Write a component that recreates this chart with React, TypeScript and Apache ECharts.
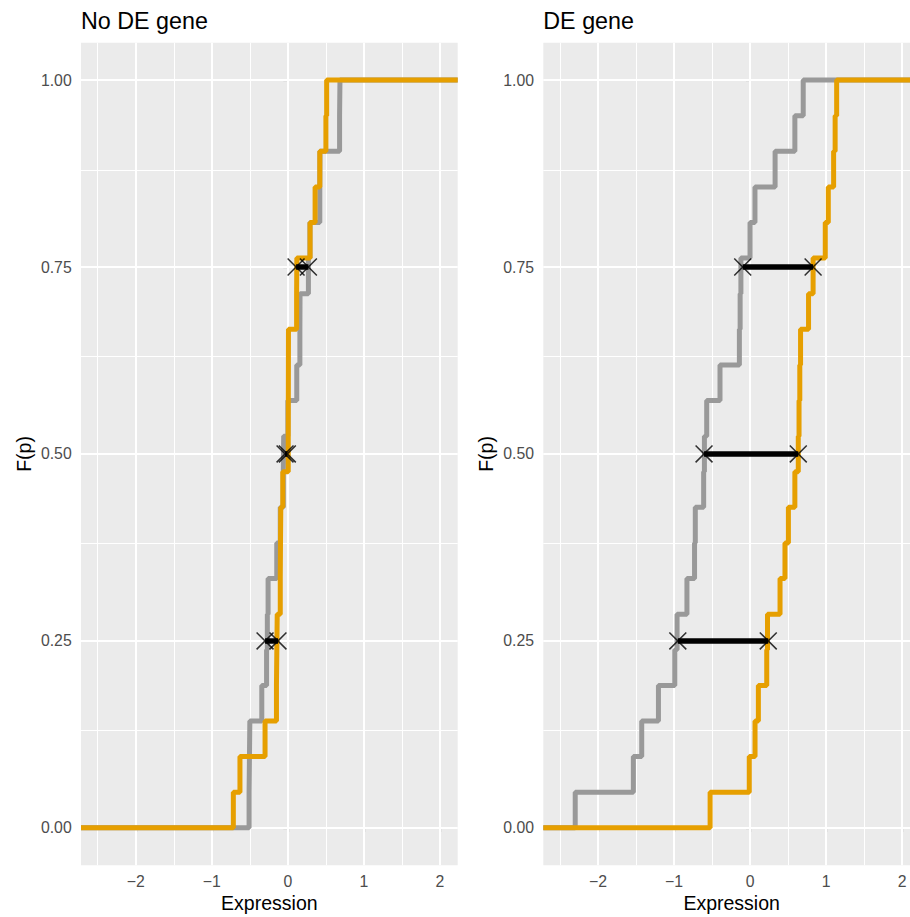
import React, { useEffect, useRef } from "react";
import * as echarts from "echarts";

// ---- data (sorted sample values) ----
const noDeGrey = [-0.51, -0.505, -0.5, -0.343, -0.28, -0.27, -0.26, -0.146, -0.1, -0.06, -0.055, 0.0, 0.117, 0.158, 0.16, 0.27, 0.29, 0.42, 0.422, 0.68, 0.685];
const noDeOrange = [-0.717, -0.63, -0.3, -0.15, -0.145, -0.14, -0.1, -0.097, -0.093, -0.067, 0.005, 0.006, 0.007, 0.008, 0.115, 0.118, 0.292, 0.358, 0.42, 0.5, 0.51];
const deGrey = [-2.3, -1.535, -1.425, -1.205, -0.99, -0.96, -0.83, -0.73, -0.72, -0.61, -0.6, -0.57, -0.395, -0.14, -0.13, -0.12, 0.0, 0.065, 0.33, 0.59, 0.7];
const deOrange = [-0.525, -0.01, 0.066, 0.11, 0.22, 0.23, 0.395, 0.46, 0.505, 0.59, 0.635, 0.645, 0.655, 0.665, 0.77, 0.83, 0.99, 1.03, 1.1, 1.12, 1.14];

const quantileProbs = [0.25, 0.5, 0.75];
const noDeGreyQ = [-0.3, -0.037, 0.27];
const noDeOrangeQ = [-0.13, -0.007, 0.108];
const deGreyQ = [-0.95, -0.605, -0.096];
const deOrangeQ = [0.24, 0.635, 0.83];

const xTickValues = [-2, -1, 0, 1, 2];
const xTickLabels = ["\u22122", "\u22121", "0", "1", "2"];
const xMinorValues = [-2.5, -1.5, -0.5, 0.5, 1.5];
const yTickValues = [0, 0.25, 0.5, 0.75, 1];
const yTickLabels = ["0.00", "0.25", "0.50", "0.75", "1.00"];
const yMinorValues = [0.125, 0.375, 0.625, 0.875];

const panelTitles = ["No DE gene", "DE gene"];
const xTitle = "Expression";
const yTitle = "F(p)";

const X_MIN = -2.72;
const X_MAX = [2.233, 2.105];
const Y_MIN = -0.05;
const Y_MAX = 1.05;

const GREY = "#999999";
const ORANGE = "#E69F00";
const FONT = "'Liberation Sans', Arial, Helvetica, sans-serif";

const ecdf = (xs: number[], xmin: number, xmax: number) => {
  const pts: number[][] = [[xmin, 0]];
  xs.forEach((x, i) => pts.push([x, (i + 1) / xs.length]));
  pts.push([xmax, 1]);
  return pts;
};

const crossPath =
  "path://M0,0.6L0.6,0L10,9.4L9.4,10Z M9.4,0L10,0.6L0.6,10L0,9.4Z";

export default function App() {
  const ref = useRef<HTMLDivElement>(null);
  useEffect(() => {
    if (!ref.current) return;
    const chart = echarts.init(ref.current, undefined, { renderer: "svg" });

    const grids = [
      { left: 81, top: 42.7, width: 376.7, height: 822.5 },
      { left: 543.3, top: 42.7, width: 366.7, height: 822.5 },
    ];
    const panels = [
      { grey: noDeGrey, orange: noDeOrange, gq: noDeGreyQ, oq: noDeOrangeQ },
      { grey: deGrey, orange: deOrange, gq: deGreyQ, oq: deOrangeQ },
    ];

    const series: any[] = [];
    panels.forEach((p, i) => {
      const common = { xAxisIndex: i, yAxisIndex: i };
      const xmax = X_MAX[i];
      // background grid lines
      series.push({
        ...common,
        type: "line",
        data: [],
        silent: true,
        z: 1,
        markLine: {
          silent: true,
          z: 1,
          symbol: "none",
          label: { show: false },
          animation: false,
          data: [
            ...xMinorValues.filter((v) => v < xmax).map((v) => ({ xAxis: v, lineStyle: { color: "#ffffff", width: 1, type: "solid" } })),
            ...yMinorValues.map((v) => ({ yAxis: v, lineStyle: { color: "#ffffff", width: 1, type: "solid" } })),
            ...xTickValues.filter((v) => v < xmax).map((v) => ({ xAxis: v, lineStyle: { color: "#ffffff", width: 2, type: "solid" } })),
            ...yTickValues.map((v) => ({ yAxis: v, lineStyle: { color: "#ffffff", width: 2, type: "solid" } })),
          ],
        },
      });
      series.push({
        ...common,
        type: "line",
        step: "end",
        showSymbol: false,
        z: 2,
        data: ecdf(p.grey, X_MIN, xmax),
        lineStyle: { color: GREY, width: 5 },
      });
      series.push({
        ...common,
        type: "line",
        step: "end",
        showSymbol: false,
        z: 3,
        data: ecdf(p.orange, X_MIN, xmax),
        lineStyle: { color: ORANGE, width: 5 },
      });
      series.push({
        ...common,
        type: "lines",
        coordinateSystem: "cartesian2d",
        z: 4,
        lineStyle: { color: "#000000", width: 5.5, opacity: 1 },
        data: quantileProbs.map((q, k) => ({ coords: [[p.gq[k], q], [p.oq[k], q]] })),
      });
      series.push({
        ...common,
        type: "scatter",
        z: 5,
        symbol: crossPath,
        symbolSize: 18,
        itemStyle: { color: "#000000" },
        data: [
          ...quantileProbs.map((q, k) => [p.gq[k], q]),
          ...quantileProbs.map((q, k) => [p.oq[k], q]),
        ],
      });
    });

    const tickLine = { show: true, length: 4.5, lineStyle: { color: "#333333", width: 1.1 } };

    const graphic: any[] = [];
    grids.forEach((g, i) => {
      graphic.push({
        type: "text",
        x: g.left,
        y: 20.7,
        style: {
          text: panelTitles[i],
          fontSize: 23.3,
          fontFamily: FONT,
          fill: "#000000",
          align: "left",
          verticalAlign: "middle",
          textAlign: "left",
          textVerticalAlign: "middle",
        },
      });
      graphic.push({
        type: "text",
        x: g.left + g.width / 2 + (i === 1 ? 5 : 0),
        y: 903,
        style: {
          text: xTitle,
          fontSize: 19.5,
          fontFamily: FONT,
          fill: "#000000",
          align: "center",
          verticalAlign: "middle",
          textAlign: "center",
          textVerticalAlign: "middle",
        },
      });
      graphic.push({
        type: "text",
        x: g.left - 57.4,
        y: g.top + g.height / 2,
        rotation: Math.PI / 2,
        style: {
          text: yTitle,
          fontSize: 19.5,
          fontFamily: FONT,
          fill: "#000000",
          align: "center",
          verticalAlign: "middle",
          textAlign: "center",
          textVerticalAlign: "middle",
        },
      });
    });

    chart.setOption({
      animation: false,
      grid: grids.map((g) => ({ ...g, show: true, backgroundColor: "#EBEBEB", borderWidth: 0 })),
      xAxis: grids.map((_, i) => ({
        type: "value",
        gridIndex: i,
        min: X_MIN,
        max: X_MAX[i],
        axisLine: { show: false },
        splitLine: { show: false },
        axisTick: { ...tickLine, customValues: xTickValues },
        axisLabel: {
          customValues: xTickValues,
          margin: 8,
          color: "#4D4D4D",
          fontSize: 15.8,
          fontFamily: FONT,
          formatter: (v: number) => xTickLabels[xTickValues.indexOf(v)] ?? String(v),
        },
      })),
      yAxis: grids.map((_, i) => ({
        type: "value",
        gridIndex: i,
        min: Y_MIN,
        max: Y_MAX,
        axisLine: { show: false },
        splitLine: { show: false },
        axisTick: { ...tickLine, customValues: yTickValues },
        axisLabel: {
          customValues: yTickValues,
          margin: 9.3,
          color: "#4D4D4D",
          fontSize: 15.8,
          fontFamily: FONT,
          formatter: (v: number) => yTickLabels[yTickValues.indexOf(v)] ?? String(v),
        },
      })),
      series,
      graphic,
    });

    return () => chart.dispose();
  }, []);

  return (
    <div
      ref={ref}
      style={{ position: "fixed", left: 0, top: 0, width: 910, height: 917, background: "#ffffff" }}
    />
  );
}
